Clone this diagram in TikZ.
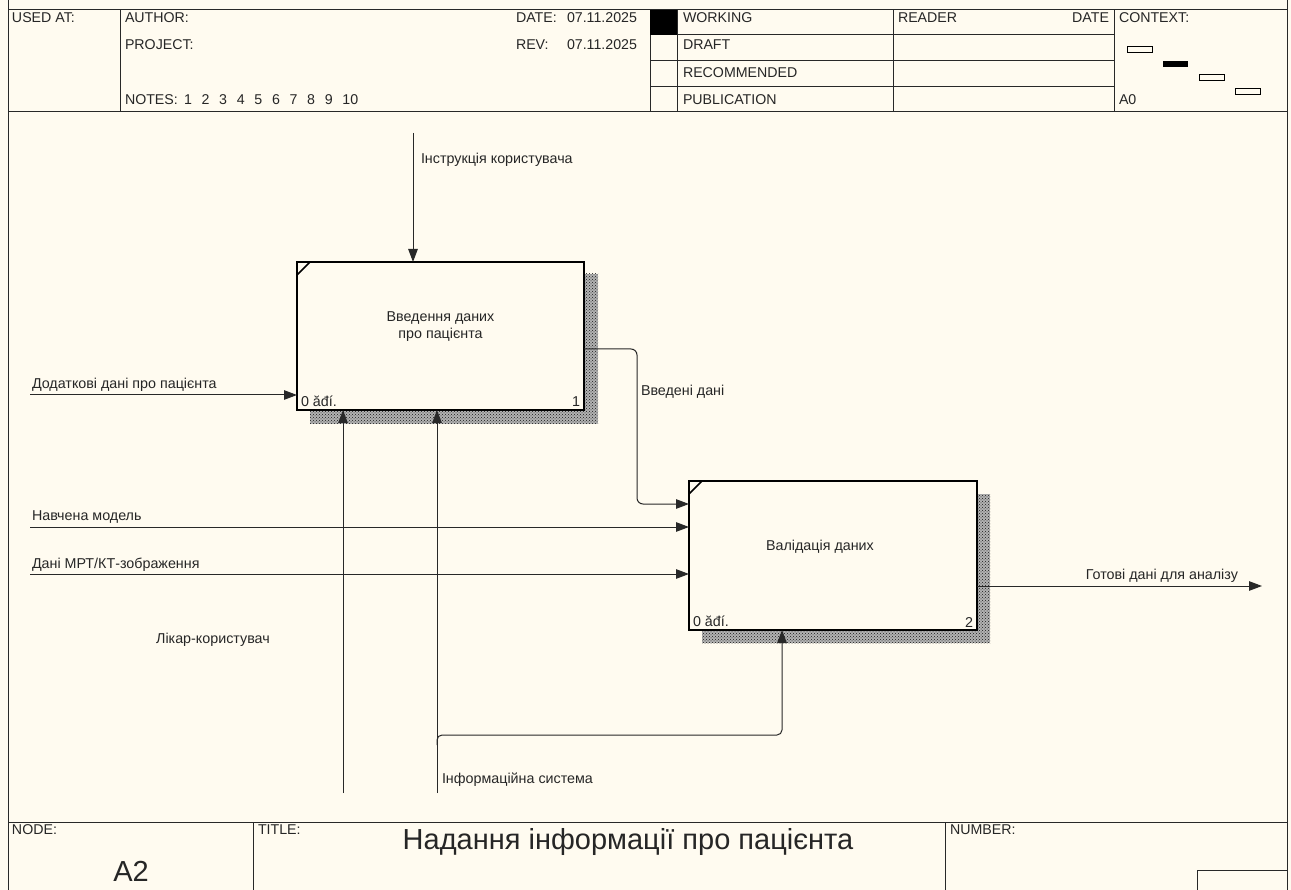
\documentclass[tikz,border=0pt]{standalone}
\usepackage{fontspec}
\setmainfont{Liberation Sans}
\usetikzlibrary{arrows.meta,patterns}
\definecolor{paper}{RGB}{255,251,240}
\definecolor{rule}{RGB}{40,40,40}

\begin{document}
\begin{tikzpicture}[x=1pt,y=-1pt,
  every node/.style={inner sep=0pt, outer sep=0pt, text=black!85},
  lbl/.style={font=\fontsize{14.3}{16}\selectfont},
  hdr/.style={font=\fontsize{14.2}{16}\selectfont},
  big/.style={font=\fontsize{29}{32}\selectfont},
  arr/.style={line width=1pt, draw=rule, -{Triangle[length=13pt,width=9.5pt]}},
  frame/.style={line width=1pt, draw=rule},
  act/.style={draw=black, line width=2pt, fill=paper, minimum width=287pt, minimum height=148pt},
  shadowbase/.style={fill=black!30},
  shadowdots/.style={pattern=crosshatch dots, pattern color=black!90},
]
\useasboundingbox (0,0) rectangle (1291,890);
\fill[paper] (0,0) rectangle (1291,890);

% ---------- outer frame ----------
\draw[frame] (8,0) -- (8,890);
\draw[frame] (1287,0) -- (1287,890);

% ---------- header ----------
\draw[frame] (8,10) rectangle (1287,112);
\foreach \xx in {120,650,677,893,1114} \draw[frame] (\xx,10) -- (\xx,112);
\foreach \yy in {35,61,87} \draw[frame] (650,\yy) -- (1114,\yy);
\fill[black] (650,10) rectangle (677,35);

\node[hdr, anchor=west] (usedat) at (12,18) {USED AT:};
\node[hdr, anchor=west] (author) at (125,18) {AUTHOR:};
\node[hdr, anchor=west] (project) at (125,45) {PROJECT:};
\node[hdr, anchor=west] (notes) at (125,100) {NOTES:};
\foreach \i in {1,...,10}
  \node[hdr, anchor=west] (note\i) at ({184+17.6*(\i-1)},100) {\i};
\node[hdr, anchor=west] (datel) at (516,18) {DATE:};
\node[hdr, anchor=west] (datev) at (567,18) {07.11.2025};
\node[hdr, anchor=west] (revl) at (516,45) {REV:};
\node[hdr, anchor=west] (revv) at (567,45) {07.11.2025};
\node[hdr, anchor=west] (working) at (683,18) {WORKING};
\node[hdr, anchor=west] (draft) at (683,45) {DRAFT};
\node[hdr, anchor=west] (recom) at (683,73) {RECOMMENDED};
\node[hdr, anchor=west] (public) at (683,100) {PUBLICATION};
\node[hdr, anchor=west] (reader) at (898,18) {READER};
\node[hdr, anchor=east] (rdate) at (1109,18) {DATE};
\node[hdr, anchor=west] (context) at (1119,18) {CONTEXT:};
\node[hdr, anchor=west] (azero) at (1119,100) {A0};

% context thumbnail
\draw[line width=1pt] (1127,47) rectangle (1152,53);
\fill[black] (1163,61) rectangle (1188,67);
\draw[line width=1pt] (1199,75) rectangle (1224,81);
\draw[line width=1pt] (1235,89) rectangle (1260,95);

% ---------- footer ----------
\draw[frame] (8,822) -- (1287,822);
\draw[frame] (253,822) -- (253,890);
\draw[frame] (945,822) -- (945,890);
\draw[frame] (1197,890) -- (1197,870) -- (1287,870);
\node[hdr, anchor=west] (nodel) at (12,830) {NODE:};
\node[big, anchor=center] (nodev) at (131,871) {A2};
\node[hdr, anchor=west] (titlel) at (258,830) {TITLE:};
\node[big, anchor=center] (title) at (628,842) {Надання інформації про пацієнта};
\node[hdr, anchor=west] (numberl) at (950,830) {NUMBER:};

% ---------- activity boxes ----------
\fill[shadowbase] (310,274) rectangle (598,424);
\fill[shadowdots] (310,274) rectangle (598,424);
\fill[shadowbase] (702,494) rectangle (990,643);
\fill[shadowdots] (702,494) rectangle (990,643);

\node[act] (b1) at (440.5,336) {};
\node[act, minimum width=288pt, minimum height=149pt] (b2) at (833,555.5) {};

\draw[line width=1.5pt] (297,275) -- (310,262);
\draw[line width=1.5pt] (689,494) -- (702,481);

\node[lbl, align=center] (b1t) at (440.5,327) {Введення даних\\[1pt]про пацієнта};
\node[lbl] (b2t) at (820,547) {Валідація даних};
\node[lbl, anchor=south west] (b1c) at ([shift={(4,-3)}]b1.south west) {0 ăđí.};
\node[lbl, anchor=south east] (b1n) at ([shift={(-4,-3)}]b1.south east) {1};
\node[lbl, anchor=south west] (b2c) at ([shift={(4,-3)}]b2.south west) {0 ăđí.};
\node[lbl, anchor=south east] (b2n) at ([shift={(-4,-3)}]b2.south east) {2};

% ---------- arrow end points ----------
\coordinate (ctl) at (413,133);
\coordinate (in1) at (30,395);
\coordinate (in2) at (30,527);
\coordinate (in3) at (30,574);
\coordinate (m1) at (343,793);
\coordinate (m2) at (437,793);
\coordinate (mb) at (437,745);
\coordinate (mc) at (782,735);
\coordinate (o1) at (637,349);
\coordinate (o2) at (637,504);
\coordinate (out) at (1262,586);

% ---------- arrows ----------
\draw[arr] (ctl) -- (ctl |- b1.north);
\draw[arr] (in1) -- (in1 -| b1.west);
\draw[arr] (in2) -- (in2 -| b2.west);
\draw[arr] (in3) -- (in3 -| b2.west);
\draw[arr] (m1) -- (m1 |- b1.south);
\draw[arr] (m2) -- (m2 |- b1.south);
\draw[arr, rounded corners=5pt] (mb) -- (mb |- mc) -- (mc) -- (mc |- b2.south);
\draw[arr, rounded corners=6pt] (b1.east |- o1) -- (o1) -- (o2) -- (o2 -| b2.west);
\draw[arr] (b2.east |- out) -- (out);

% ---------- arrow labels ----------
\node[lbl, anchor=west] (lctl) at (421,160) {Інструкція користувача};
\node[lbl, anchor=west] (lin1) at (32,385) {Додаткові дані про пацієнта};
\node[lbl, anchor=west] (lin2) at (32,517) {Навчена модель};
\node[lbl, anchor=west] (lin3) at (32,565) {Дані МРТ/КТ-зображення};
\node[lbl] (lm1) at (213,640) {Лікар-користувач};
\node[lbl, anchor=west] (lm2) at (442,780) {Інформаційна система};
\node[lbl, anchor=west] (lo1) at (641,392) {Введені дані};
\node[lbl, anchor=east] (lout) at (1238,576) {Готові дані для аналізу};
\end{tikzpicture}
\end{document}
